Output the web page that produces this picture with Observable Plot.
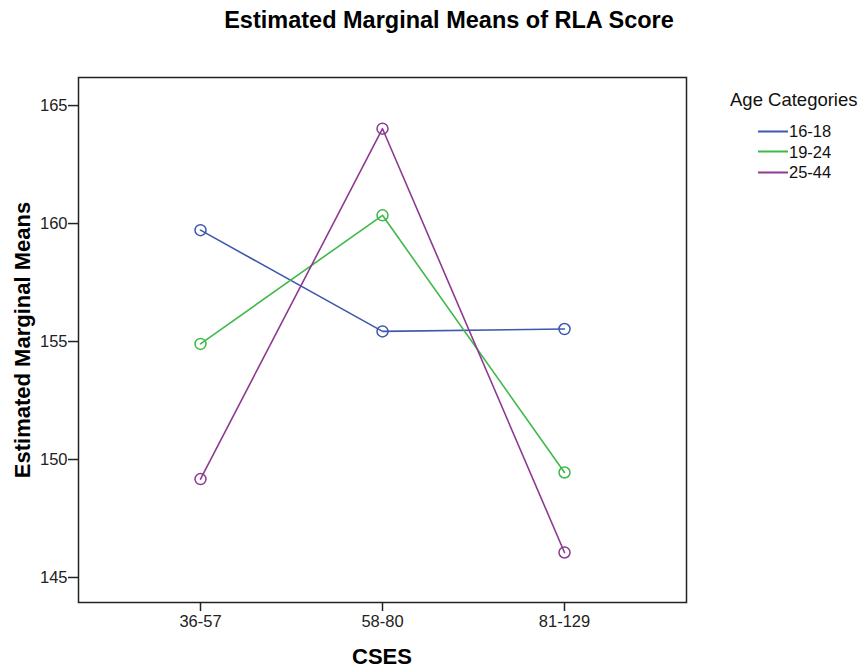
<!DOCTYPE html>
<html>
<head>
<meta charset="utf-8">
<script src="https://cdn.jsdelivr.net/npm/d3@7"></script>
<script src="https://cdn.jsdelivr.net/npm/@observablehq/plot@0.6"></script>
<style>
  body { margin: 0; background: #fff; font-family: Arial, "Liberation Sans", sans-serif; }
  #wrap { position: relative; width: 868px; height: 670px; }
  .abs { position: absolute; white-space: nowrap; color: #000; }
  #title { left: 449px; top: 20px; transform: translate(-50%, -50%); font-weight: bold; font-size: 23.5px; }
  #ylab { left: 23px; top: 340px; font-weight: bold; font-size: 22px; transform: translate(-50%, -50%) rotate(-90deg); }
  #xlab { left: 382px; top: 657px; font-weight: bold; font-size: 22px; transform: translate(-50%, -50%); }
  #legtitle { left: 730px; top: 100px; font-size: 18.5px; color: #111; transform: translate(0, -50%); }
  .legrow { position: absolute; left: 758px; font-size: 16.5px; color: #111; display: flex; align-items: center; transform: translate(0, -50%); }
  .legrow span.sw { display: inline-block; width: 30px; height: 2px; margin-right: 1px; }
</style>
</head>
<body>
<div id="wrap">
  <div id="chart"></div>
  <div class="abs" id="title">Estimated Marginal Means of RLA Score</div>
  <div class="abs" id="ylab">Estimated Marginal Means</div>
  <div class="abs" id="xlab">CSES</div>
  <div class="abs" id="legtitle">Age Categories</div>
  <div id="legend"></div>
</div>
<script>
const csesLevels = ["36-57", "58-80", "81-129"];
const ageGroups = ["16-18", "19-24", "25-44"];
const means1618 = [159.72, 155.43, 155.53];
const means1924 = [154.90, 160.35, 149.45];
const means2544 = [149.17, 164.02, 146.06];
const groupColors = ["#3E58AC", "#3EB94A", "#8E3A92"];
const yTicks = [145, 150, 155, 160, 165];

const seriesValues = [means1618, means1924, means2544];
const data = [];
ageGroups.forEach((g, gi) => {
  csesLevels.forEach((c, ci) => data.push({group: g, cses: c, mean: seriesValues[gi][ci]}));
});

const chart = Plot.plot({
  width: 868,
  height: 670,
  marginLeft: 78,
  marginRight: 182,
  marginTop: 77,
  marginBottom: 68,
  style: {fontFamily: "Arial, 'Liberation Sans', sans-serif", fontSize: "16.5px", color: "#222", background: "white"},
  x: {type: "point", domain: csesLevels, padding: 0.667},
  y: {domain: [143.94, 166.19]},
  color: {domain: ageGroups, range: groupColors},
  marks: [
    Plot.axisY({ticks: yTicks, tickSize: 10, tickPadding: 1, tickFormat: d => String(d), label: null, stroke: "#222", strokeWidth: 1.5, fontSize: 16.5}),
    Plot.axisX({tickSize: 9, tickPadding: 4, label: null, stroke: "#222", strokeWidth: 1.5, fontSize: 16.5}),
    Plot.lineY(data, {x: "cses", y: "mean", z: "group", stroke: "group", strokeWidth: 1.6}),
    Plot.dot(data, {x: "cses", y: "mean", stroke: "group", r: 5.5, strokeWidth: 1.5, fill: "none"}),
    Plot.frame({stroke: "#222", strokeWidth: 1.5})
  ]
});
document.getElementById("chart").appendChild(chart);

const leg = document.getElementById("legend");
ageGroups.forEach((g, i) => {
  const row = document.createElement("div");
  row.className = "legrow";
  row.style.top = (131 + i * 20.5) + "px";
  row.innerHTML = `<span class="sw" style="background:${groupColors[i]}"></span><span>${g}</span>`;
  leg.appendChild(row);
});
</script>
</body>
</html>
